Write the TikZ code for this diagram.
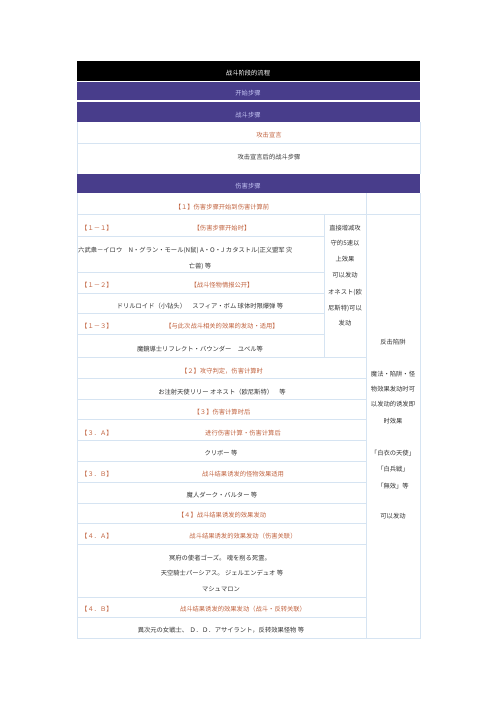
\documentclass[tikz,border=0pt]{standalone}
\usepackage{fontspec}
\newfontfamily\cjk{Noto Sans CJK SC}
\definecolor{purp}{RGB}{72,61,139}
\definecolor{lav}{RGB}{196,196,244}
\definecolor{orng}{RGB}{192,98,62}
\definecolor{txtgray}{RGB}{51,51,51}
\definecolor{gridc}{RGB}{214,228,242}
\tikzset{
  tx/.style={font=\cjk\fontsize{6.3}{7}\selectfont, inner sep=0pt, text=txtgray},
  ot/.style={tx, text=orng},
  hd/.style={tx, text=lav},
  wt/.style={tx, text=white},
  lbl/.style={ot, anchor=west},
  gl/.style={draw=gridc, line width=0.8pt},
  band/.style={fill=purp, draw=none},
}
\begin{document}
\begin{tikzpicture}[x=1pt,y=-1pt]
\useasboundingbox (0,0) rectangle (496,702);
% header bands
\fill[black] (77,61) rectangle (420,81);
\fill[purp] (77,82) rectangle (420,100);
\fill[purp] (77,102) rectangle (420,122);
\fill[purp] (77,174) rectangle (420,193);
% grid
\draw[gl] (77,122) -- (77,174);
\draw[gl] (420,122) -- (420,174);
\draw[gl] (77,143) -- (420,143);
\draw[gl] (77,193) -- (77,638) -- (420,638) -- (420,193);
\draw[gl] (366,193) -- (366,638);
\draw[gl] (324,214) -- (324,357);
\draw[gl] (77,214) -- (420,214);
\foreach \yy in {236,272,293,313,334} \draw[gl] (77,\yy) -- (324,\yy);
\foreach \yy in {357,378,399,419,440,461,482,503,523,544,597,617} \draw[gl] (77,\yy) -- (366,\yy);
% header texts
\node[wt] (h0) at (248,73) {战斗阶段的流程};
\node[hd] (h1) at (248,93) {开始步骤};
\node[hd] (h2) at (248,115) {战斗步骤};
\node[ot] (h3) at (269,135) {攻击宣言};
\node[tx] (h4) at (269,157) {攻击宣言后的战斗步骤};
\node[hd] (h5) at (248,186) {伤害步骤};
% step 1
\node[ot] (s1) at (222,207) {【１】伤害步骤开始到伤害计算前};
\node[lbl] (l11) at (81,228) {【１－１】};
\node[ot] (s11) at (222,228) {【伤害步骤开始时】};
\node[tx,anchor=west] (c11a) at (78,250) {六武衆－イロウ\quad N・グラン・モール(N鼠) A・O・J カタストル(正义盟军 灾};
\node[tx] (c11b) at (200,266) {亡兽) 等};
\node[lbl] (l12) at (81,285) {【１－２】};
\node[ot] (s12) at (222,285) {【战斗怪物情报公开】};
\node[tx] (c12) at (200,306) {ドリルロイド（小钻头）\quad スフィア・ボム 球体时限爆弹 等};
\node[lbl] (l13) at (81,326) {【１－３】};
\node[ot] (s13) at (222,326) {【与此次战斗相关的效果的发动・适用】};
\node[tx] (c13) at (200,349) {魔鏡導士リフレクト・バウンダー\quad ユベル等};
% middle column
\node[tx] (m1) at (345,228) {直接增减攻};
\node[tx] (m2) at (345,243) {守的5速以};
\node[tx] (m3) at (345,259) {上效果};
\node[tx] (m4) at (345,275) {可以发动};
\node[tx] (m5) at (345,292) {オネスト(欧};
\node[tx] (m6) at (345,308) {尼斯特)可以};
\node[tx] (m7) at (345,323) {发动};
% steps 2-4
\node[ot] (s2) at (222,371) {【２】攻守判定，伤害计算时};
\node[tx] (c2) at (222,392) {お注射天使リリー オネスト（欧尼斯特）\quad 等};
\node[ot] (s3) at (222,412) {【３】伤害计算时后};
\node[lbl] (l3a) at (81,433) {【３．Ａ】};
\node[ot] (s3a) at (243,433) {进行伤害计算・伤害计算后};
\node[tx] (c3a) at (221,453) {クリボー 等};
\node[lbl] (l3b) at (81,474) {【３．Ｂ】};
\node[ot] (s3b) at (243,474) {战斗结果诱发的怪物效果适用};
\node[tx] (c3b) at (222,495) {魔人ダーク・バルター 等};
\node[ot] (s4) at (222,515) {【４】战斗结果诱发的效果发动};
\node[lbl] (l4a) at (81,536) {【４．Ａ】};
\node[ot] (s4a) at (243,536) {战斗结果诱发的效果发动（伤害关联）};
\node[tx] (c4a1) at (220,558) {冥府の使者ゴーズ。 魂を削る死霊。};
\node[tx] (c4a2) at (222,573) {天空騎士パーシアス。 ジェルエンデュオ 等};
\node[tx] (c4a3) at (221,589) {マシュマロン};
\node[lbl] (l4b) at (81,609) {【４．Ｂ】};
\node[ot] (s4b) at (243,609) {战斗结果诱发的效果发动（战斗・反转关联）};
\node[tx] (c4b) at (221,630) {異次元の女戦士、 Ｄ．Ｄ．アサイラント，反转效果怪物 等};
% right column
\node[tx] (r1) at (393,342) {反击陷阱};
\node[tx] (r2) at (393,374) {魔法・陷阱・怪};
\node[tx] (r3) at (393,389) {物效果发动时可};
\node[tx] (r4) at (393,404) {以发动的诱发即};
\node[tx] (r5) at (393,421) {时效果};
\node[tx] (r6) at (393,453) {「白衣の天使」};
\node[tx] (r7) at (393,469) {「白兵戦」};
\node[tx] (r8) at (393,486) {「無效」等};
\node[tx] (r9) at (393,516) {可以发动};
\end{tikzpicture}
\end{document}
